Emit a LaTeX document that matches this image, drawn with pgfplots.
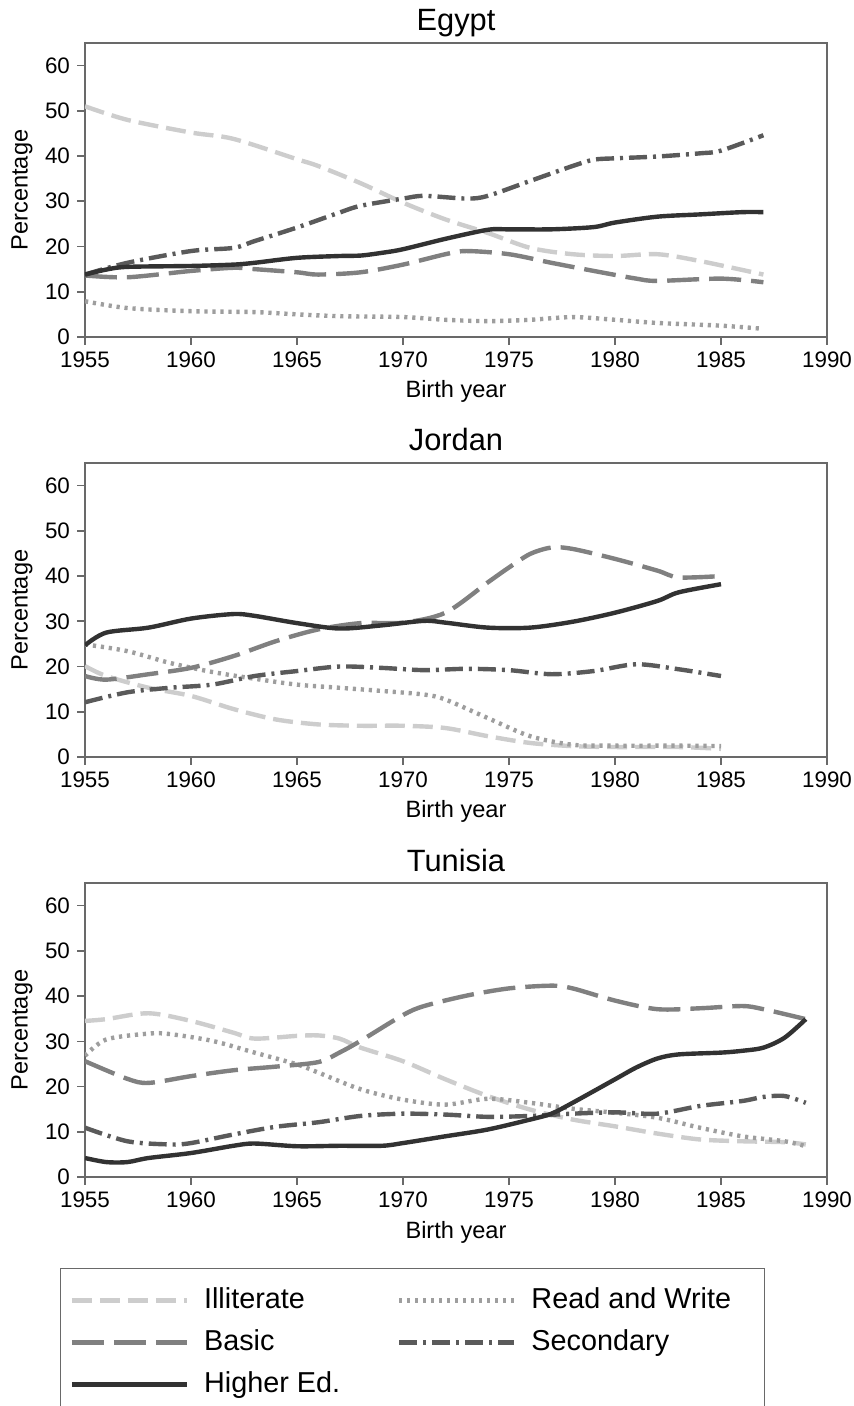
\documentclass[border=0pt]{standalone}
\usepackage{fontspec}
\setmainfont{Liberation Sans}
\usepackage{pgfplots}
\pgfplotsset{compat=1.18}
\definecolor{cIll}{RGB}{205,205,205}
\definecolor{cRW}{RGB}{158,158,158}
\definecolor{cBas}{RGB}{128,128,128}
\definecolor{cSec}{RGB}{90,90,90}
\definecolor{cHig}{RGB}{50,50,50}
\definecolor{cFrame}{RGB}{105,105,105}
\pgfplotsset{
  illit/.style={color=cIll, line width=2.2pt, dash pattern=on 10pt off 4pt, smooth},
  rw/.style={color=cRW, line width=2.2pt, dash pattern=on 1.6pt off 2.4pt, smooth},
  basic/.style={color=cBas, line width=2.2pt, dash pattern=on 16pt off 5pt, smooth},
  second/.style={color=cSec, line width=2.2pt, dash pattern=on 9pt off 3pt on 1.5pt off 3pt, smooth},
  higher/.style={color=cHig, line width=2.2pt, solid, smooth},
  panel/.style={
    scale only axis, width=371pt, height=147pt,
    anchor=south west,
    xmin=1955, xmax=1990, ymin=0, ymax=65,
    xtick={1955,1960,...,1990}, ytick={0,10,...,60},
    axis line style={cFrame, line width=1pt},
    tick style={cFrame, line width=0.8pt},
    tick align=outside, major tick length=4pt,
    xtick pos=bottom, ytick pos=left,
    /pgf/number format/assume math mode=true,
    /pgf/number format/1000 sep={},
    tick label style={font=\fontsize{11.2}{12}\selectfont},
    label style={font=\fontsize{11.8}{13}\selectfont},
    every axis title shift=0pt,
    title style={font=\fontsize{15.4}{17}\selectfont, at={(axis description cs:0.5,1.0408)}, anchor=base},
    xlabel style={at={(axis description cs:0.5,-0.2075)}, anchor=base},
    ylabel style={at={(axis description cs:-0.0849,0.5)}, anchor=center},
    xlabel={Birth year}, ylabel={Percentage},
    clip=true,
  }
}
\begin{document}
\begin{tikzpicture}
\useasboundingbox (0,0) rectangle (427pt,703pt);
\clip (0,0) rectangle (427pt,703pt);
% ---------------- Egypt
\begin{axis}[panel, at={(42.5pt,534.5pt)}, title={Egypt}]
\addplot[illit] coordinates {(1955,51) (1957,48) (1960,45.2) (1962,43.8) (1965,39.3) (1966,37.8) (1968,34) (1970,29.7) (1972,26) (1974,23) (1976,19.7) (1978,18.3) (1980,17.9) (1982,18.3) (1984,16.8) (1987,13.8)};
\addplot[rw] coordinates {(1955,7.9) (1957,6.4) (1960,5.7) (1963,5.5) (1965,5) (1967,4.6) (1970,4.4) (1972,3.8) (1974,3.5) (1976,3.8) (1978,4.4) (1980,3.8) (1982,3.1) (1985,2.5) (1987,1.8)};
\addplot[basic] coordinates {(1955,13.6) (1957,13.2) (1960,14.6) (1962,15.3) (1963,15) (1965,14.3) (1966,13.8) (1968,14.3) (1970,16) (1972,18.3) (1973,19) (1975,18.3) (1977,16.4) (1979,14.6) (1981,12.9) (1982,12.4) (1985,12.9) (1987,12.1)};
\addplot[second] coordinates {(1955,13.8) (1957,16.4) (1960,19) (1962,19.7) (1963,21.2) (1965,24.2) (1967,27.5) (1968,29) (1970,30.6) (1971,31.2) (1973,30.6) (1974,31.2) (1976,34.5) (1978,37.8) (1979,39.2) (1980,39.5) (1982,39.9) (1984,40.6) (1985,41.2) (1987,44.6)};
\addplot[higher] coordinates {(1955,13.8) (1956,14.9) (1957,15.5) (1960,15.7) (1962,16) (1963,16.4) (1965,17.5) (1967,17.9) (1968,18) (1969,18.6) (1970,19.4) (1972,21.7) (1974,23.7) (1975,23.8) (1977,23.8) (1979,24.3) (1980,25.3) (1982,26.6) (1984,27.1) (1986,27.6) (1987,27.6)};
\end{axis}
% ---------------- Jordan
\begin{axis}[panel, at={(42.5pt,324.5pt)}, title={Jordan}]
\addplot[illit] coordinates {(1955,20.1) (1956,17.9) (1958,15.3) (1960,13.5) (1962,10.6) (1964,8.3) (1966,7.2) (1968,6.9) (1970,6.9) (1972,6.4) (1974,4.6) (1976,3.1) (1978,2.4) (1980,2.2) (1983,2.2) (1985,1.8)};
\addplot[rw] coordinates {(1955,24.9) (1957,23.4) (1959,20.8) (1961,18.8) (1963,17.3) (1965,16) (1967,15.3) (1969,14.6) (1971,13.8) (1972,12.7) (1974,8.6) (1976,4.6) (1978,2.7) (1980,2.5) (1983,2.5) (1985,2.4)};
\addplot[basic] coordinates {(1955,17.9) (1956,17.1) (1958,18.3) (1960,19.7) (1962,22.3) (1964,25.6) (1966,28.2) (1968,29.6) (1970,29.7) (1972,31.9) (1974,38.6) (1975,41.9) (1976,44.9) (1977,46.3) (1978,46) (1980,43.8) (1982,41.2) (1983,39.7) (1985,40)};
\addplot[second] coordinates {(1955,12.1) (1957,14.3) (1959,15.3) (1961,16) (1963,17.9) (1965,19) (1967,20) (1969,19.7) (1971,19.2) (1973,19.5) (1975,19.2) (1977,18.3) (1979,19) (1981,20.5) (1983,19.4) (1985,17.9)};
\addplot[higher] coordinates {(1955,24.7) (1956,27.5) (1958,28.6) (1960,30.6) (1962,31.6) (1963,31.2) (1965,29.6) (1967,28.4) (1969,29.1) (1971,30.1) (1972,29.7) (1974,28.6) (1976,28.6) (1978,29.9) (1980,31.9) (1982,34.5) (1983,36.4) (1985,38.2)};
\end{axis}
% ---------------- Tunisia
\begin{axis}[panel, at={(42.5pt,114.5pt)}, title={Tunisia},
  legend columns=2,
  legend cell align=left,
  legend image code/.code={\draw[#1] (0pt,0pt) -- (57.5pt,0pt);},
  legend style={at={(axis description cs:-0.0337,-0.3095)}, anchor=north west,
    draw=cFrame, line width=0.7pt, fill=white,
    inner xsep=4.5pt, inner ysep=9.25pt,
    font=\fontsize{14.4}{16}\selectfont,
    nodes={inner sep=0pt, text height=10.5pt, text depth=3pt},
    row sep=7.5pt,
    /tikz/every odd column/.style={column sep=7.5pt},
    /tikz/every even column/.style={column sep=6.5pt}},
]
\addplot[illit] coordinates {(1955,34.5) (1956,34.9) (1958,36.2) (1960,34.5) (1962,31.9) (1963,30.6) (1965,31.2) (1966,31.3) (1967,30.6) (1968,28.6) (1970,25.6) (1972,21.6) (1974,17.9) (1976,14.9) (1978,12.7) (1980,11.2) (1982,9.6) (1984,8.3) (1986,7.9) (1988,7.7) (1989,7.2)};
\addlegendentry{\makebox[90pt][l]{Illiterate}}
\addplot[rw] coordinates {(1955,26.8) (1956,30.4) (1958,31.7) (1959,31.6) (1961,30.1) (1963,27.5) (1965,24.9) (1966,23.1) (1968,19.4) (1970,17.1) (1972,16) (1974,17.3) (1976,16.4) (1978,15.1) (1980,14.2) (1982,13.1) (1984,10.9) (1986,9) (1988,7.9) (1989,6.8)};
\addlegendentry{\makebox[112pt][l]{Read and Write}}
\addplot[basic] coordinates {(1955,25.6) (1957,21.7) (1958,20.8) (1960,22.3) (1962,23.6) (1964,24.4) (1966,25.4) (1967,27.5) (1968,30.1) (1970,35.8) (1971,37.8) (1973,40.1) (1975,41.7) (1977,42.3) (1978,41.7) (1980,39) (1982,37.1) (1984,37.3) (1986,37.8) (1987,37.1) (1989,34.9)};
\addlegendentry{\makebox[90pt][l]{Basic}}
\addplot[second] coordinates {(1955,10.9) (1957,7.9) (1959,7.2) (1960,7.5) (1962,9.4) (1964,11.1) (1966,12.1) (1968,13.5) (1970,14) (1972,13.8) (1974,13.3) (1976,13.5) (1978,14) (1980,14.3) (1982,14) (1984,15.7) (1986,16.8) (1987,17.7) (1988,17.9) (1989,16.4)};
\addlegendentry{\makebox[112pt][l]{Secondary}}
\addplot[higher] coordinates {(1955,4.2) (1956,3.3) (1957,3.3) (1958,4.2) (1960,5.3) (1962,6.9) (1963,7.4) (1965,6.8) (1967,6.9) (1969,6.9) (1970,7.5) (1972,9) (1974,10.5) (1976,12.7) (1977,14) (1978,16.4) (1980,21.6) (1981,24.2) (1982,26.2) (1983,27.1) (1985,27.5) (1986,27.9) (1987,28.6) (1988,30.8) (1989,34.9)};
\addlegendentry{\makebox[90pt][l]{Higher Ed.}}
\end{axis}
\end{tikzpicture}
\end{document}
